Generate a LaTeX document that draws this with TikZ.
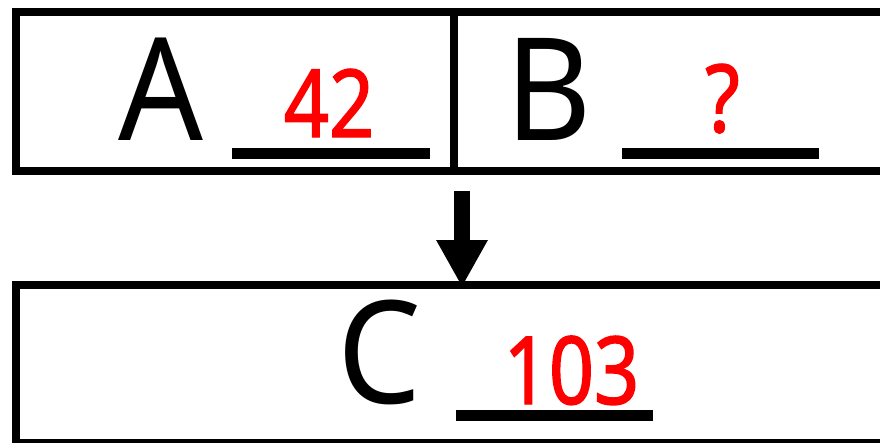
\documentclass[tikz,border=0pt]{standalone}
\usepackage{fontspec}
\setmainfont{Noto Sans}
\newfontfamily\bigfont[FakeStretch=0.93]{Noto Sans}
\newfontfamily\numfont[FakeStretch=0.84, FakeBold=1.5]{Noto Sans}
\usetikzlibrary{arrows.meta}
\tikzset{
  cell/.style={draw=black, line width=7.7pt, rectangle, inner sep=0pt, minimum height=159pt},
  letter/.style={anchor=base, inner sep=0pt, text=black, font=\bigfont\fontsize{143}{150}\selectfont},
  answer/.style={anchor=base, inner sep=0pt, text=red, font=\numfont\fontsize{94}{100}\selectfont},
  blank/.style={line width=10.5pt, black},
  arr/.style={line width=16pt, black, -{Triangle[length=47pt, width=48pt]}}
}
\begin{document}
\begin{tikzpicture}[x=1pt, y=-1pt]
\useasboundingbox (0,0) rectangle (880,442);
\clip (0,0) rectangle (880,442);
\fill[white] (0,0) rectangle (880,442);
% boxes
\node[cell, minimum width=438pt] (boxA) at (235,91.5) {};
\node[cell, minimum width=546pt] (boxB) at (727,91.5) {};
\node[cell, minimum width=984pt, minimum height=158pt] (boxC) at (508,364) {};
% letters
\node[letter] (A) at (161,140) {A};
\node[letter] (B) at (548.5,140) {B};
\node[letter] (C) at (380,403) {C};
% answers
\node[answer] (a42) at (329,137) {42};
\node[answer] (aq) at (722.5,132) {?};
\node[answer] (a103) at (571.5,404) {103};
% blanks
\draw[blank] (232,153.5) -- (430,153.5);
\draw[blank] (622,153.5) -- (819,153.5);
\draw[blank] (456,415.5) -- (653,415.5);
% arrow
\coordinate (ax) at (462,0);
\draw[arr] ([yshift=-16pt]boxB.south -| ax) -- ([yshift=-6pt]boxC.north -| ax);
\end{tikzpicture}
\end{document}
